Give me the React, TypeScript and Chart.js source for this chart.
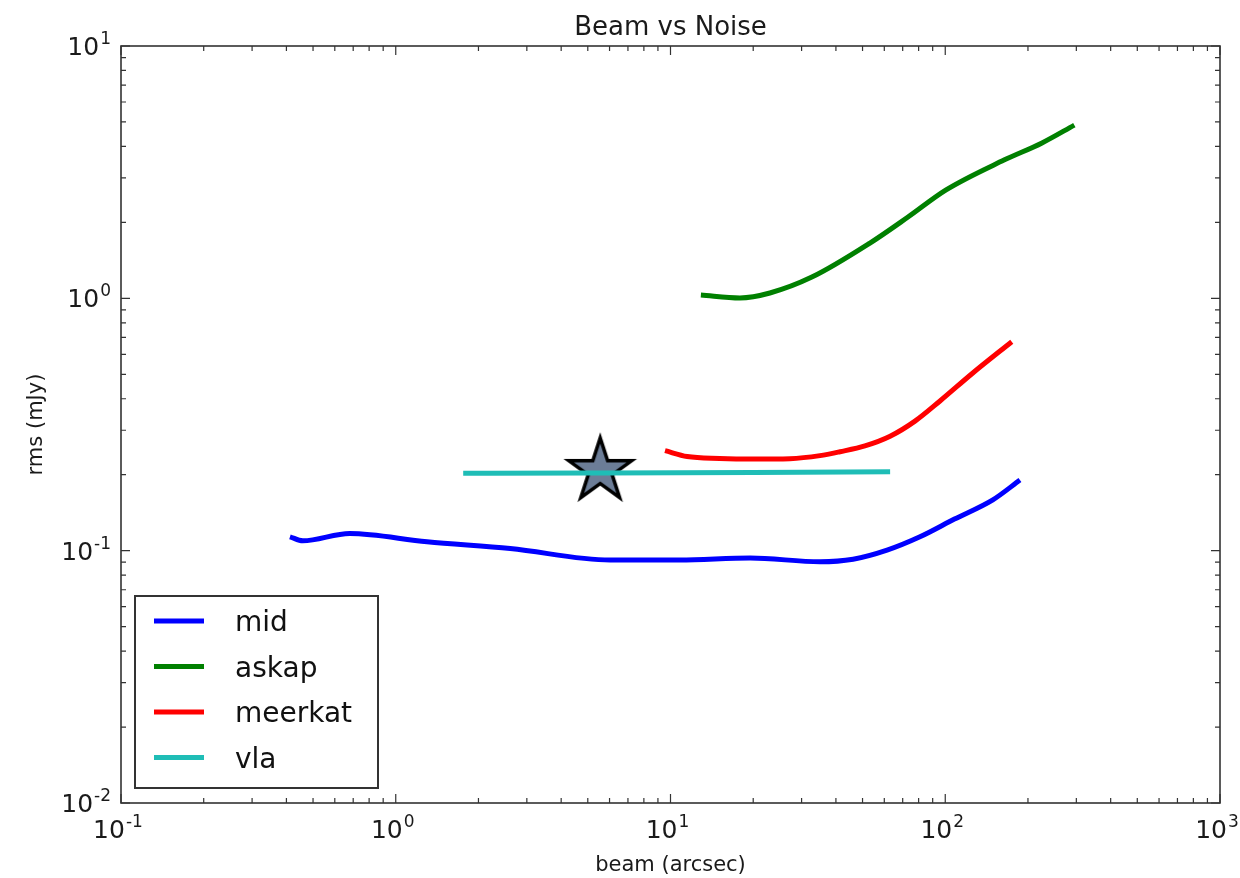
import React, { useEffect, useRef } from "react";
import { Chart, registerables } from "chart.js";
Chart.register(...registerables);

// ---- data ----
const midBeam = [0.412, 0.459, 0.68, 1.3, 2.61, 6.03, 10.8, 19.5, 35, 46.2, 61.4, 80.9, 108, 149, 187];
const midRms = [0.1135, 0.1094, 0.117, 0.1084, 0.102, 0.0918, 0.0918, 0.0935, 0.0904, 0.0925, 0.1005, 0.1135, 0.1334, 0.159, 0.1905];

const askapBeam = [12.9, 17.9, 23.0, 32.7, 53.2, 73.2, 100.7, 163.6, 225, 295];
const askapRms = [1.03, 1.003, 1.05, 1.214, 1.656, 2.1, 2.69, 3.53, 4.13, 4.86];

const meerkatBeam = [9.55, 11.5, 15.1, 20, 27.2, 35, 41.4, 51, 63, 77.6, 95.7, 126, 174.6];
const meerkatRms = [0.249, 0.236, 0.232, 0.2307, 0.2315, 0.238, 0.2466, 0.26, 0.284, 0.326, 0.392, 0.506, 0.673];

const vlaBeam = [1.76, 5, 20, 63];
const vlaRms = [0.2025, 0.203, 0.204, 0.2055];

const starBeam = [5.55];
const starRms = [0.207];

const seriesLabels = ["mid", "askap", "meerkat", "vla"];
const seriesColors = ["#0000ff", "#008000", "#ff0000", "#1fbdb6"];

const xMajorTicks = [0.1, 1, 10, 100, 1000];
const xTickExponents = ["-1", "0", "1", "2", "3"];
const yMajorTicks = [0.01, 0.1, 1, 10];
const yTickExponents = ["-2", "-1", "0", "1"];

const titleText = "Beam vs Noise";
const xLabel = "beam (arcsec)";
const yLabel = "rms (mJy)";

const FONT = '"DejaVu Sans", "Bitstream Vera Sans", sans-serif';

function pts(xs: number[], ys: number[]) {
  return xs.map((x, i) => ({ x, y: ys[i] }));
}

function makeStar(r: number, inner: number, lw: number, fill: string, stroke: string) {
  const size = Math.ceil(2 * (r + lw * 2 + 2));
  const c = document.createElement("canvas");
  c.width = size;
  c.height = size;
  const g = c.getContext("2d")!;
  const cx = size / 2;
  const cy = size / 2;
  g.beginPath();
  for (let i = 0; i < 10; i++) {
    const rad = i % 2 === 0 ? r : r * inner;
    const a = -Math.PI / 2 + (i * Math.PI) / 5;
    const px = cx + rad * Math.cos(a);
    const py = cy + rad * Math.sin(a);
    if (i === 0) g.moveTo(px, py);
    else g.lineTo(px, py);
  }
  g.closePath();
  g.fillStyle = fill;
  g.fill();
  g.lineWidth = lw;
  g.lineJoin = "miter";
  g.strokeStyle = stroke;
  g.stroke();
  return c;
}

function minorTicks(min: number, max: number) {
  const out: number[] = [];
  for (let d = min; d < max; d *= 10) {
    for (let k = 2; k <= 9; k++) out.push(d * k);
  }
  return out;
}

const TICK_SIZE = 25;
const SUP_SIZE = 17;

function drawPow(ctx: CanvasRenderingContext2D, exp: string, x: number, baseline: number, align: "center" | "right") {
  ctx.font = `${TICK_SIZE}px ${FONT}`;
  const wb = ctx.measureText("10").width;
  ctx.font = `${SUP_SIZE}px ${FONT}`;
  const ws = ctx.measureText(exp).width;
  const total = wb + ws + 1;
  const sx = align === "center" ? x - total / 2 : x - total;
  ctx.textAlign = "left";
  ctx.textBaseline = "alphabetic";
  ctx.font = `${TICK_SIZE}px ${FONT}`;
  ctx.fillText("10", sx, baseline);
  ctx.font = `${SUP_SIZE}px ${FONT}`;
  ctx.fillText(exp, sx + wb + 1, baseline - 11);
}

const decorPlugin = {
  id: "decor",
  afterDraw(chart: any) {
    const ctx: CanvasRenderingContext2D = chart.ctx;
    const { left, right, top, bottom } = chart.chartArea;
    const xs = chart.scales.x;
    const ys = chart.scales.y;
    ctx.save();
    // frame
    ctx.strokeStyle = "#333333";
    ctx.lineWidth = 1.6;
    ctx.strokeRect(left, top, right - left, bottom - top);

    // ticks
    ctx.lineWidth = 1.2;
    const xMinor = minorTicks(0.1, 1000);
    const yMinor = minorTicks(0.01, 10);
    const drawX = (v: number, len: number) => {
      const px = xs.getPixelForValue(v);
      ctx.beginPath();
      ctx.moveTo(px, bottom);
      ctx.lineTo(px, bottom - len);
      ctx.moveTo(px, top);
      ctx.lineTo(px, top + len);
      ctx.stroke();
    };
    const drawY = (v: number, len: number) => {
      const py = ys.getPixelForValue(v);
      ctx.beginPath();
      ctx.moveTo(left, py);
      ctx.lineTo(left + len, py);
      ctx.moveTo(right, py);
      ctx.lineTo(right - len, py);
      ctx.stroke();
    };
    xMinor.forEach((v) => drawX(v, 5));
    xMajorTicks.forEach((v) => drawX(v, 9));
    yMinor.forEach((v) => drawY(v, 5));
    yMajorTicks.forEach((v) => drawY(v, 9));

    // tick labels
    ctx.fillStyle = "#1a1a1a";
    xMajorTicks.forEach((v, i) => {
      drawPow(ctx, xTickExponents[i], xs.getPixelForValue(v) - 3, bottom + 35, "center");
    });
    yMajorTicks.forEach((v, i) => {
      const py = ys.getPixelForValue(v);
      drawPow(ctx, yTickExponents[i], left - 10, py + TICK_SIZE * 0.729 / 2, "right");
    });

    // title
    ctx.fillStyle = "#1a1a1a";
    ctx.textAlign = "center";
    ctx.textBaseline = "alphabetic";
    ctx.font = `26px ${FONT}`;
    ctx.fillText(titleText, (left + right) / 2, 35);

    // axis labels
    ctx.font = `21px ${FONT}`;
    ctx.fillText(xLabel, (left + right) / 2, 871);
    ctx.save();
    ctx.translate(42, (top + bottom) / 2);
    ctx.rotate(-Math.PI / 2);
    ctx.fillText(yLabel, 0, 0);
    ctx.restore();

    // legend
    const lx = left + 14;
    const ly = 596;
    const lw = 243;
    const lh = 192;
    ctx.fillStyle = "#ffffff";
    ctx.fillRect(lx, ly, lw, lh);
    ctx.strokeStyle = "#333333";
    ctx.lineWidth = 2;
    ctx.strokeRect(lx, ly, lw, lh);
    const entries = chart.data.datasets.filter((d: any) => !d.skipLegend);
    entries.forEach((d: any, i: number) => {
      const y = 621 + i * 45.5;
      ctx.strokeStyle = d.borderColor;
      ctx.lineWidth = 5;
      ctx.beginPath();
      ctx.moveTo(lx + 19, y);
      ctx.lineTo(lx + 69, y);
      ctx.stroke();
      ctx.fillStyle = "#111111";
      ctx.textAlign = "left";
      ctx.textBaseline = "alphabetic";
      ctx.font = `28px ${FONT}`;
      ctx.fillText(d.label, lx + 100, y + 10);
    });
    ctx.restore();
  },
};

export default function App() {
  const ref = useRef<HTMLCanvasElement | null>(null);
  useEffect(() => {
    if (!ref.current) return;
    const star = makeStar(33, 0.382, 3.5, "#6c7d97", "#000000");
    const lineDs = (i: number, xs: number[], ys: number[]) => ({
      label: seriesLabels[i],
      data: pts(xs, ys),
      borderColor: seriesColors[i],
      backgroundColor: seriesColors[i],
      borderWidth: 5,
      showLine: true,
      pointRadius: 0,
      cubicInterpolationMode: "monotone",
      borderCapStyle: "butt",
      borderJoinStyle: "round",
    });
    const chart = new Chart(ref.current, {
      type: "scatter",
      data: {
        datasets: [
          lineDs(0, midBeam, midRms),
          lineDs(1, askapBeam, askapRms),
          lineDs(2, meerkatBeam, meerkatRms),
          lineDs(3, vlaBeam, vlaRms),
          {
            label: "star",
            skipLegend: true,
            data: pts(starBeam, starRms),
            pointStyle: star,
            pointRadius: 10,
            showLine: false,
          } as any,
        ],
      } as any,
      options: {
        animation: false,
        responsive: false,
        devicePixelRatio: 1,
        layout: { padding: { left: 121, right: 20, top: 46, bottom: 75 } },
        scales: {
          x: { type: "logarithmic", min: 0.1, max: 1000, display: false },
          y: { type: "logarithmic", min: 0.01, max: 10, display: false },
        },
        plugins: {
          legend: { display: false },
          title: { display: false },
          tooltip: { enabled: false },
        },
      } as any,
      plugins: [decorPlugin],
    });
    return () => chart.destroy();
  }, []);
  return (
    <div style={{ position: "absolute", left: 0, top: 0, width: 1240, height: 878, background: "#fff" }}>
      <canvas ref={ref} width={1240} height={878} style={{ display: "block" }} />
    </div>
  );
}
